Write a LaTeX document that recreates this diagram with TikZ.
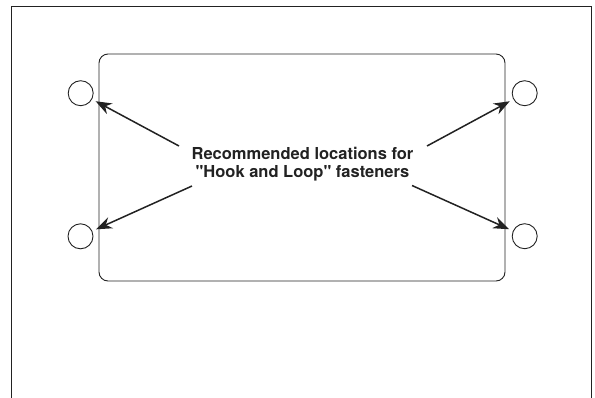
\documentclass[tikz,border=0pt]{standalone}
\usepackage{fontspec}
\newfontfamily\heros{TeX Gyre Heros}
\usetikzlibrary{arrows.meta}
\definecolor{ink}{HTML}{222222}
\tikzset{
  frame/.style={draw=ink, line width=1.8pt},
  panel/.style={draw=ink, line width=0.9pt, rounded corners=9pt},
  hole/.style={circle, draw=ink, line width=0.9pt, minimum size=25pt, inner sep=0pt},
  pointer/.style={draw=ink, line width=1.5pt, -{Stealth[length=16pt, width=12pt]}, shorten >=4pt},
  label/.style={font=\heros\bfseries\fontsize{16.5}{18}\selectfont, text=ink, align=center, inner sep=0pt}
}
\begin{document}
\begin{tikzpicture}[x=1pt,y=-1pt]
\useasboundingbox (0,0) rectangle (595,397);
\draw[frame] (11.5,398) -- (11.5,6.5) -- (591.5,6.5) -- (591.5,398);
\draw[panel] (99,54) rectangle (505,281);
\node[hole] (c1) at (80.7,93.2) {};
\node[hole] (c2) at (80.5,236.3) {};
\node[hole] (c3) at (524.7,93.2) {};
\node[hole] (c4) at (524.7,236.2) {};
\node[label] (t) at (302.5,164) {Recommended locations for\\"Hook and Loop" fasteners};
\coordinate (s1) at (179,146);
\coordinate (s2) at (192,186);
\coordinate (s3) at (427,146);
\coordinate (s4) at (412,185.5);
\draw[pointer] (s1) -- (c1);
\draw[pointer] (s2) -- (c2);
\draw[pointer] (s3) -- (c3);
\draw[pointer] (s4) -- (c4);
\end{tikzpicture}
\end{document}
